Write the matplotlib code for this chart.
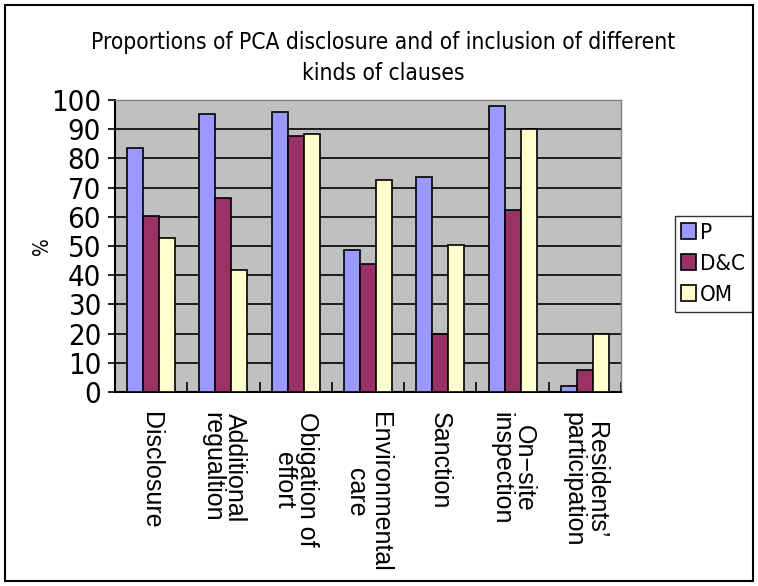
import matplotlib
matplotlib.use("Agg")
import matplotlib.pyplot as plt
import numpy as np
from matplotlib.patches import Rectangle

categories = ["Disclosure", "Additional\nregualtion", "Obigation of\neffort",
              "Environmental\ncare", "Sanction", "On\u2212site\ninspection",
              "Residents\u2019\nparticipation"]
series = ["P", "D&C", "OM"]
p_vals = [83.4, 95.1, 95.8, 48.5, 73.8, 97.8, 2.2]
dc_vals = [60.2, 66.4, 87.7, 43.8, 19.7, 62.3, 7.5]
om_vals = [52.7, 41.7, 88.3, 72.5, 50.5, 90.2, 19.7]
colors = ["#9999FF", "#993366", "#FFFFCC"]
yticks = list(range(0, 101, 10))

narrow = dict(family=["DejaVu Sans"], stretch="condensed")
arial = ["Liberation Sans", "DejaVu Sans"]

fig = plt.figure(figsize=(7.58, 5.86), dpi=100)
fig.patch.set_facecolor("white")
fig.patches.append(Rectangle((0.006, 0.008), 0.988, 0.984, transform=fig.transFigure,
                             fill=False, edgecolor="black", linewidth=1.5))

ax = fig.add_axes([115 / 758, 1 - 392 / 586, 506 / 758, 292 / 586])
ax.set_facecolor("#C0C0C0")

x = np.arange(len(categories))
w = 0.221
for i, (vals, c, name) in enumerate(zip([p_vals, dc_vals, om_vals], colors, series)):
    ax.bar(x + (i - 1) * w, vals, width=w, color=c, edgecolor="black",
           linewidth=1.2, label=name, zorder=3)

ax.set_xlim(-0.5, len(categories) - 0.5)
ax.set_ylim(0, 100)
ax.set_yticks(yticks)
ax.set_yticklabels([str(t) for t in yticks], fontsize=21, **narrow)
ax.yaxis.grid(True, color="black", linewidth=1.2, zorder=1)
ax.set_axisbelow(True)
ax.tick_params(axis="y", direction="out", length=5, width=1.2, pad=5)

ax.set_xticks(np.arange(len(categories) + 1) - 0.5)
ax.set_xticklabels([])
ax.tick_params(axis="x", direction="in", length=7, width=1.2)
for xi, lab in zip(x, categories):
    ax.text(xi, -7, lab, rotation=270, ha="center", va="top",
            multialignment="center", fontsize=18, linespacing=0.95,
            family=arial)

for side in ["top", "right"]:
    ax.spines[side].set_color("#808080")
    ax.spines[side].set_linewidth(1.0)
for side in ["left", "bottom"]:
    ax.spines[side].set_color("black")
    ax.spines[side].set_linewidth(1.5)

fig.text(42 / 758, 1 - 246 / 586, "%", rotation=90, ha="center", va="center",
         fontsize=15, **narrow)

fig.text(383 / 758, 1 - 58 / 586,
         "Proportions of PCA disclosure and of inclusion of different\nkinds of clauses",
         ha="center", va="center", fontsize=16.3, linespacing=1.5, **narrow)

leg = fig.legend(loc="upper right", bbox_to_anchor=(752 / 758, 1 - 216 / 586),
                 prop={"family": "DejaVu Sans", "stretch": "condensed", "size": 16},
                 frameon=True, fancybox=False,
                 edgecolor="black", handlelength=0.65, handleheight=0.75,
                 handletextpad=0.2, labelspacing=0.5, borderpad=0.3,
                 borderaxespad=0)
leg.get_frame().set_linewidth(1.0)

fig.savefig("out.png", dpi=100)
